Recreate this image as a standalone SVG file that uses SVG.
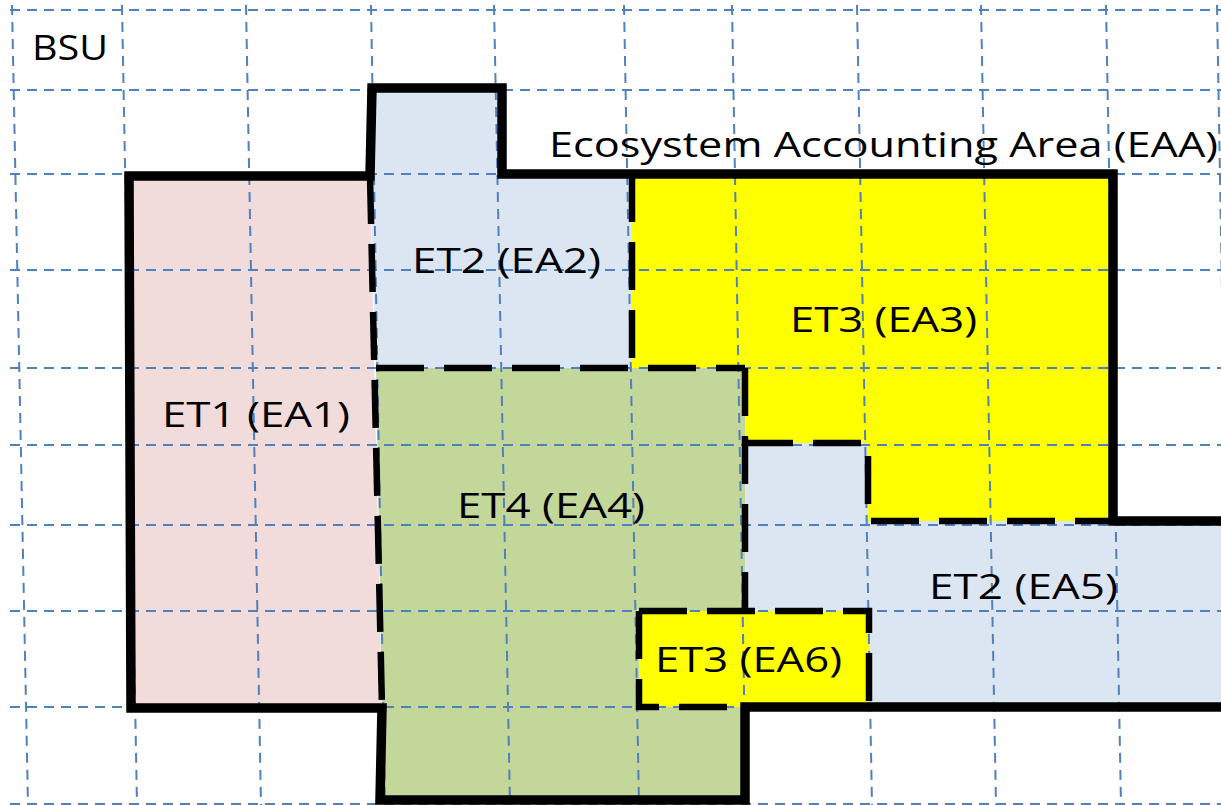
<svg xmlns="http://www.w3.org/2000/svg" width="1221" height="805" viewBox="0 0 1221 805">
<style>
.grid{stroke:#4F81BD;stroke-width:2;stroke-dasharray:10 7;fill:none}
.solid{stroke:#000;stroke-width:9.5;fill:none;stroke-linejoin:miter;stroke-linecap:square}
.dash{stroke:#000;stroke-width:6.5;fill:none;stroke-dasharray:48 20}
.lbl{font-family:"Open Sans","Noto Sans",sans-serif;font-size:35.5px;fill:#000}
</style>
<rect x="0" y="0" width="1221" height="805" fill="#fff"/>
<g id="fills">
<g id="et1-ea1"><polygon points="129,176 370,176 382,708 131,708" fill="#F2DCDB"/></g>
<g id="et2-ea2"><polygon points="372,88 502,88 502,174 632,174 632,368 376,368 370,176" fill="#DCE6F2"/></g>
<g id="et3-ea3"><polygon points="632,174 1113,174 1113,521 868,521 868,443 745,443 745,368 632,368" fill="#FFFF00"/></g>
<g id="et4-ea4"><polygon points="376,368 745,368 745,800 380,800 382,708" fill="#C4D79B"/></g>
<g id="et2-ea5"><polygon points="745,443 868,443 868,521 1221,521 1221,707 869,707 869,611 745,611" fill="#DCE6F2"/></g>
<g id="et3-ea6"><polygon points="639,611 869,611 869,707 639,707" fill="#FFFF00"/></g>
</g>
<g id="grid">
<line class="grid" x1="12" y1="5" x2="28" y2="805"/>
<line class="grid" x1="122" y1="5" x2="137" y2="805"/>
<line class="grid" x1="246" y1="5" x2="261" y2="805"/>
<line class="grid" x1="371" y1="5" x2="385" y2="805"/>
<line class="grid" x1="494" y1="5" x2="510" y2="805"/>
<line class="grid" x1="624" y1="5" x2="639" y2="805"/>
<line class="grid" x1="732" y1="5" x2="746" y2="805"/>
<line class="grid" x1="857" y1="5" x2="872" y2="805"/>
<line class="grid" x1="981" y1="5" x2="996" y2="805"/>
<line class="grid" x1="1106" y1="5" x2="1121" y2="805"/>
<line class="grid" x1="1217" y1="5" x2="1231" y2="805"/>
<line class="grid" x1="10" y1="10" x2="1221" y2="10"/>
<line class="grid" x1="10" y1="90" x2="1221" y2="90"/>
<line class="grid" x1="10" y1="174" x2="1221" y2="174"/>
<line class="grid" x1="10" y1="270" x2="1221" y2="270"/>
<line class="grid" x1="10" y1="368" x2="1221" y2="368"/>
<line class="grid" x1="10" y1="445" x2="1221" y2="445"/>
<line class="grid" x1="10" y1="525" x2="1221" y2="525"/>
<line class="grid" x1="10" y1="611" x2="1221" y2="611"/>
<line class="grid" x1="10" y1="707" x2="1221" y2="707"/>
<line class="grid" x1="10" y1="804" x2="1221" y2="804"/>
</g>
<g id="connectors">
<path class="dash" d="M370,176 L382,708"/>
<path class="dash" d="M376,368 L745,368"/>
<path class="dash" d="M632,174 L632,368"/>
<path class="dash" d="M745,368 L745,611"/>
<path class="dash" d="M745,443 L868,443 L868,521 L1113,521"/>
<path class="dash" d="M639,611 L869,611 L869,707"/>
<path class="dash" d="M639,611 L639,707 L745,707"/>
<path class="solid" d="M1225,707 L745,707 L745,800 L380,800 L382,708 L131,708 L129,176 L370,176 L372,88 L502,88 L502,174 L1113,174 L1113,521 L1225,521"/>
</g>
<g id="labels">
<text class="lbl" x="32" y="60" textLength="76" lengthAdjust="spacingAndGlyphs">BSU</text>
<text class="lbl" x="549" y="157" textLength="669" lengthAdjust="spacingAndGlyphs">Ecosystem Accounting Area (EAA)</text>
<text class="lbl" x="412" y="273" textLength="189" lengthAdjust="spacingAndGlyphs">ET2 (EA2)</text>
<text class="lbl" x="790" y="332" textLength="187" lengthAdjust="spacingAndGlyphs">ET3 (EA3)</text>
<text class="lbl" x="162" y="427" textLength="188" lengthAdjust="spacingAndGlyphs">ET1 (EA1)</text>
<text class="lbl" x="457" y="518" textLength="188" lengthAdjust="spacingAndGlyphs">ET4 (EA4)</text>
<text class="lbl" x="929" y="599" textLength="189" lengthAdjust="spacingAndGlyphs">ET2 (EA5)</text>
<text class="lbl" x="655" y="672" textLength="187" lengthAdjust="spacingAndGlyphs">ET3 (EA6)</text>
</g>
</svg>
